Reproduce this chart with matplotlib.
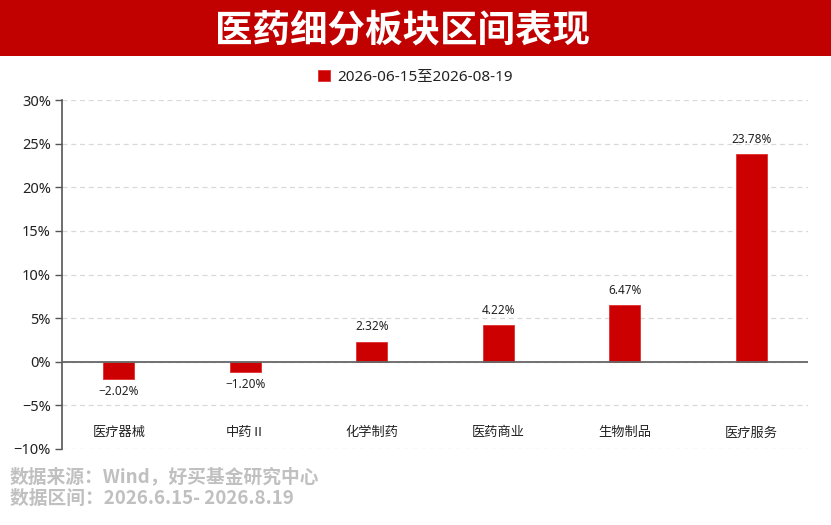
import matplotlib
matplotlib.use("Agg")
import matplotlib.pyplot as plt
from matplotlib.patches import Rectangle
import matplotlib.transforms as mtransforms

plt.rcParams['font.family'] = ['Noto Sans', 'Noto Sans CJK SC', 'DejaVu Sans']
plt.rcParams['axes.unicode_minus'] = False
CJK = ['Noto Sans CJK SC', 'DejaVu Sans']

title = "医药细分板块区间表现"
series_name = "2026-06-15至2026-08-19"
categories = ["医疗器械", "中药Ⅱ", "化学制药", "医药商业", "生物制品", "医疗服务"]
values = [-2.02, -1.20, 2.32, 4.22, 6.47, 23.78]
yticks = [-10, -5, 0, 5, 10, 15, 20, 25, 30]
ytick_labels = ["−10%", "−5%", "0%", "5%", "10%", "15%", "20%", "25%", "30%"]
footer_lines = ["数据来源：Wind，好买基金研究中心", "数据区间：2026.6.15- 2026.8.19"]

W, H = 831, 525
fig = plt.figure(figsize=(W / 100, H / 100), dpi=100)
fig.patch.set_facecolor("white")

# title band
band_h = 56 / H
fig.patches.append(Rectangle((0, 1 - band_h), 1, band_h, transform=fig.transFigure,
                             facecolor="#C10000", edgecolor="none", zorder=0))
fig.text(402 / W, 1 - 30 / H, title, ha="center", va="center", color="white",
         fontsize=27, fontweight="bold", family=CJK)

# axes
left, right, top, bottom = 62, 808, 100, 449
ax = fig.add_axes([left / W, 1 - bottom / H, (right - left) / W, (bottom - top) / H])
x = list(range(len(categories)))
bars = ax.bar(x, values, width=0.245, color="#CC0000", edgecolor="#E03030",
              linewidth=0.6, zorder=3, label=series_name)
ax.set_xlim(-0.45, 5.45)
ax.set_ylim(yticks[0], yticks[-1])
ax.set_yticks(yticks)
ax.set_yticklabels(ytick_labels, fontsize=10.5, color="#222222")
ax.tick_params(axis="y", length=5, width=1, color="#555555", pad=3)
ax.set_xticks([])
for s in ["top", "right", "bottom"]:
    ax.spines[s].set_visible(False)
ax.spines["left"].set_color("#555555")
ax.spines["left"].set_linewidth(1.2)
ax.grid(axis="y", linestyle=(0, (4, 3)), color="#D9D9D9", linewidth=0.9, zorder=0)
ax.axhline(0, color="#666666", linewidth=1.3, zorder=4)

for xi, v in zip(x, values):
    if v >= 0:
        ax.annotate(f"{v:.2f}%", (xi, v), xytext=(0, 6), textcoords="offset points",
                    ha="center", va="bottom", fontsize=8.5, color="#222222")
    else:
        ax.annotate(f"−{abs(v):.2f}%", (xi, v), xytext=(0, -4), textcoords="offset points",
                    ha="center", va="top", fontsize=8.5, color="#222222")

trans = mtransforms.blended_transform_factory(ax.transData, ax.transAxes)
for xi, c in zip(x, categories):
    ax.text(xi, 0.046, c, transform=trans, ha="center", va="center",
            fontsize=9.5, color="#222222", family=CJK)

leg = fig.legend(handles=[bars], labels=[series_name], loc="center",
                 bbox_to_anchor=(0.5, 1 - 77 / H), frameon=False, fontsize=11,
                 handlelength=0.75, handleheight=0.75, handletextpad=0.5)
for t in leg.get_texts():
    t.set_color("#222222")

fig.text(10 / W, 1 - 477 / H, footer_lines[0], ha="left", va="center",
         fontsize=13.5, fontweight="bold", color="#C0C0C0", family=CJK)
fig.text(10 / W, 1 - 498 / H, footer_lines[1], ha="left", va="center",
         fontsize=13.5, fontweight="bold", color="#C0C0C0", family=CJK)

fig.savefig("out.png", dpi=100, facecolor="white")
